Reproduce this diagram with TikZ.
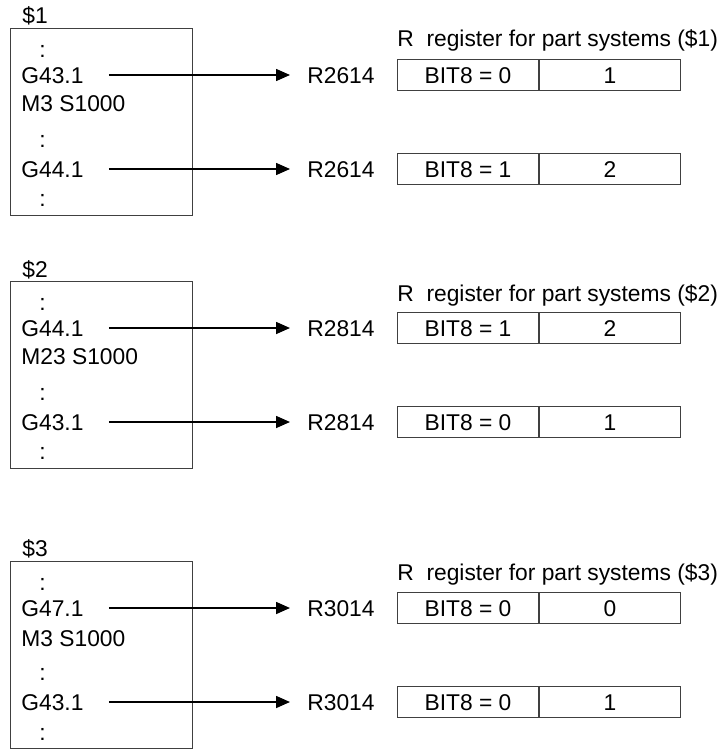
\documentclass[tikz,border=0pt]{standalone}
\usepackage{fontspec}
\setmainfont{Liberation Sans}
\usetikzlibrary{arrows.meta,positioning}

\begin{document}
\begin{tikzpicture}[x=0.5pt, y=-0.5pt,
  txt/.style={inner sep=0pt, anchor=west, text height=8.2pt, text depth=0pt, font=\fontsize{11.4}{13}\selectfont},
  progbox/.style={draw=black!75, line width=0.5pt, anchor=north west, minimum width=91pt, minimum height=93.5pt, inner sep=0pt},
  cell/.style={draw=black!75, line width=0.5pt, minimum width=70.5pt, minimum height=15.5pt, inner sep=0pt, text height=8.2pt, text depth=0pt, font=\fontsize{11.4}{13}\selectfont},
  feed/.style={-{Triangle[length=7pt, width=6pt]}, line width=0.8pt, shorten <=12.5pt, shorten >=8.5pt}
]
\useasboundingbox (0,0) rectangle (721,749);

% --------- PART SYSTEM $1 ----------
\begin{scope}[shift={(0,28)}]
  % program
  \node[txt] (S1) at (22,-13) {\$1};
  \node[progbox] (P1) at (10,0) {};
  \node[txt] (P1d1) at (39,21) {:};
  \node[txt] (P1a) at (21,47) {G43.1};
  \node[txt] (P1m) at (21,75) {M3 S1000};
  \node[txt] (P1d2) at (39,111) {:};
  \node[txt] (P1b) at (21,141) {G44.1};
  \node[txt] (P1d3) at (39,170) {:};

  % registers
  \node[txt] (T1) at (397,10) {R\ \ register for part systems (\$1)};
  \node[txt] (R1a) at (307,47) {R2614};
  \node[cell, anchor=west] (B1a) at (397,47) {BIT8 = 0};
  \node[cell, right=0pt of B1a] (V1a) {1};
  \node[txt] (R1b) at (307,141) {R2614};
  \node[cell, anchor=west] (B1b) at (397,141) {BIT8 = 1};
  \node[cell, right=0pt of B1b] (V1b) {2};

  \draw[feed] (P1a) -- (R1a);
  \draw[feed] (P1b) -- (R1b);
\end{scope}

% --------- PART SYSTEM $2 ----------
\begin{scope}[shift={(0,281)}]
  % program
  \node[txt] (S2) at (22,-12) {\$2};
  \node[progbox] (P2) at (10,0) {};
  \node[txt] (P2d1) at (39,21) {:};
  \node[txt] (P2a) at (21,47) {G44.1};
  \node[txt] (P2m) at (21,75) {M23 S1000};
  \node[txt] (P2d2) at (39,111) {:};
  \node[txt] (P2b) at (21,141) {G43.1};
  \node[txt] (P2d3) at (39,170) {:};

  % registers
  \node[txt] (T2) at (397,12) {R\ \ register for part systems (\$2)};
  \node[txt] (R2a) at (307,47) {R2814};
  \node[cell, anchor=west] (B2a) at (397,47) {BIT8 = 1};
  \node[cell, right=0pt of B2a] (V2a) {2};
  \node[txt] (R2b) at (307,141) {R2814};
  \node[cell, anchor=west] (B2b) at (397,141) {BIT8 = 0};
  \node[cell, right=0pt of B2b] (V2b) {1};

  \draw[feed] (P2a) -- (R2a);
  \draw[feed] (P2b) -- (R2b);
\end{scope}

% --------- PART SYSTEM $3 ----------
\begin{scope}[shift={(0,561)}]
  % program
  \node[txt] (S3) at (22,-13) {\$3};
  \node[progbox] (P3) at (10,0) {};
  \node[txt] (P3d1) at (39,21) {:};
  \node[txt] (P3a) at (21,47) {G47.1};
  \node[txt] (P3m) at (21,77) {M3 S1000};
  \node[txt] (P3d2) at (39,111) {:};
  \node[txt] (P3b) at (21,141) {G43.1};
  \node[txt] (P3d3) at (39,171) {:};

  % registers
  \node[txt] (T3) at (397,11) {R\ \ register for part systems (\$3)};
  \node[txt] (R3a) at (307,47) {R3014};
  \node[cell, anchor=west] (B3a) at (397,47) {BIT8 = 0};
  \node[cell, right=0pt of B3a] (V3a) {0};
  \node[txt] (R3b) at (307,141) {R3014};
  \node[cell, anchor=west] (B3b) at (397,141) {BIT8 = 0};
  \node[cell, right=0pt of B3b] (V3b) {1};

  \draw[feed] (P3a) -- (R3a);
  \draw[feed] (P3b) -- (R3b);
\end{scope}

\end{tikzpicture}
\end{document}
